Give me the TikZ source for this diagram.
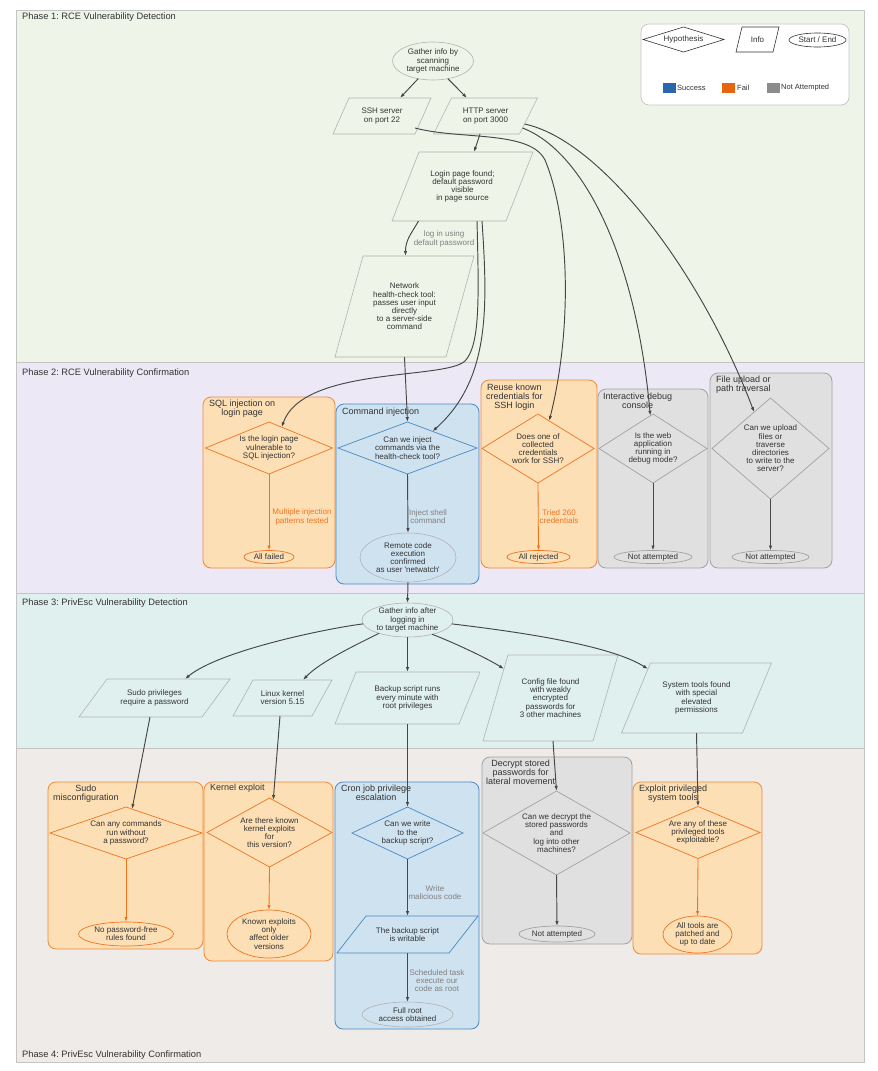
\documentclass[tikz,border=0pt]{standalone}
\usepackage{fontspec}
\setmainfont{Liberation Sans}
\usetikzlibrary{arrows.meta,calc,shapes.geometric}
\frenchspacing
\definecolor{pone}{HTML}{EEF5E8}
\definecolor{ptwo}{HTML}{EDE8F5}
\definecolor{pthree}{HTML}{DFF0EF}
\definecolor{pfour}{HTML}{EFEBE8}
\definecolor{lanel}{HTML}{C4C4C4}
\definecolor{txt}{HTML}{333333}
\definecolor{infol}{HTML}{B2B2B2}
\definecolor{ofill}{HTML}{FDDFB5}
\definecolor{oline}{HTML}{F0883A}
\definecolor{odark}{HTML}{EE7420}
\definecolor{bfill}{HTML}{CFE2F0}
\definecolor{bline}{HTML}{4A88C8}
\definecolor{gfill}{HTML}{E0E0E0}
\definecolor{gline}{HTML}{A2A2A2}
\definecolor{edge}{HTML}{474747}
\definecolor{lbl}{HTML}{808080}
\definecolor{succ}{HTML}{2B65B0}
\definecolor{fail}{HTML}{E8650F}
\definecolor{nat}{HTML}{8C8C8C}
\tikzset{
  ntext/.style={inner sep=0pt, outer sep=0pt, align=center, text=txt, font=\fontsize{8}{8.2}\selectfont},
  lanetitle/.style={anchor=west, inner sep=0pt, text=txt, font=\fontsize{9.3}{10}\selectfont},
  boxtitle/.style={anchor=north west, inner sep=0pt, align=center, text=txt, font=\fontsize{9}{9}\selectfont},
  lane/.style={draw=lanel, line width=0.8pt},
  obox/.style={draw=oline, fill=ofill, line width=0.8pt, rounded corners=8pt},
  bbox/.style={draw=bline, fill=bfill, line width=0.8pt, rounded corners=8pt},
  gbox/.style={draw=gline, fill=gfill, line width=0.8pt, rounded corners=8pt},
  infoline/.style={draw=infol, line width=0.6pt},
  oshape/.style={draw=odark, line width=0.7pt},
  bshape/.style={draw=bline, line width=0.7pt},
  gshape/.style={draw=gline, line width=0.7pt},
  legline/.style={draw=txt, line width=0.6pt},
  oell/.style={ntext, ellipse, draw=odark, line width=0.7pt},
  gell/.style={ntext, ellipse, draw=gline, line width=0.7pt},
  iell/.style={ntext, ellipse, draw=infol, line width=0.6pt},
  arr/.style={draw=edge, line width=0.95pt, -{Latex[length=5pt,width=3.4pt]}},
  oarr/.style={draw=odark, line width=0.85pt, -{Latex[length=5pt,width=3.4pt]}},
  elabel/.style={ntext, text=lbl},
  olabel/.style={ntext, text=odark},
  legtext/.style={anchor=west, inner sep=0pt, text=txt, font=\fontsize{7.5}{8}\selectfont},
}
% parallelogram: name, x, y, w, h, slant, style, text
\newcommand{\mkpara}[8]{%
  \node[ntext, minimum width=#4pt, minimum height=#5pt] (#1) at (#2,#3) {#8};
  \draw[#7] ([xshift=#6pt/2]#1.north west) -- ([xshift=#6pt/2]#1.north east) -- ([xshift=-#6pt/2]#1.south east) -- ([xshift=-#6pt/2]#1.south west) -- cycle;}
% diamond: name, x, y, w, h, style, text
\newcommand{\mkdia}[7]{%
  \node[ntext, minimum width=#4pt, minimum height=#5pt] (#1) at (#2,#3) {#7};
  \draw[#6] (#1.north) -- (#1.east) -- (#1.south) -- (#1.west) -- cycle;}
\begin{document}
\begin{tikzpicture}[x=1pt,y=-1pt]
\useasboundingbox (0,0) rectangle (878,1071);
\fill[white] (0,0) rectangle (878,1071);
% lanes
\draw[lane, fill=pone] (16,10) rectangle (864,362);
\draw[lane, fill=ptwo] (16,362) rectangle (864,593);
\draw[lane, fill=pthree] (16,593) rectangle (864,748);
\draw[lane, fill=pfour] (16,748) rectangle (864,1062);
\node[lanetitle] (t1) at (22,17.5) {Phase 1: RCE Vulnerability Detection};
\node[lanetitle] (t2) at (22,373.5) {Phase 2: RCE Vulnerability Confirmation};
\node[lanetitle] (t3) at (22,603.5) {Phase 3: PrivEsc Vulnerability Detection};
\node[lanetitle] (t4) at (22,1055) {Phase 4: PrivEsc Vulnerability Confirmation};
% legend
\draw[draw=lanel, fill=white, line width=0.7pt, rounded corners=8pt] (641,24) rectangle (849,105);
\mkdia{lhyp}{683.5}{39.5}{81}{25}{legline}{Hypothesis}
\mkpara{linfo}{757.5}{39.5}{37}{25}{6}{legline}{Info}
\node[ntext, ellipse, draw=txt, line width=0.6pt, minimum width=57pt, minimum height=14pt] (lse) at (817.5,40) {Start / End};
\node[fill=succ, minimum width=13pt, minimum height=10pt, inner sep=0pt] (sw1) at (669.5,88) {};
\node[legtext] (sl1) at (677,88) {Success};
\node[fill=fail, minimum width=13pt, minimum height=10pt, inner sep=0pt] (sw2) at (728.5,88) {};
\node[legtext] (sl2) at (737,88) {Fail};
\node[fill=nat, minimum width=13pt, minimum height=10pt, inner sep=0pt] (sw3) at (773.5,88) {};
\node[legtext] (sl3) at (781,88) {Not Attempted};
% phase 2 boxes
\draw[obox] (203,397) rectangle (335,568);
\draw[bbox] (336,404) rectangle (479,584);
\draw[obox] (481,380) rectangle (597,568);
\draw[gbox] (598,389) rectangle (708,568);
\draw[gbox] (710,373) rectangle (832,568);
\node[boxtitle] (bt1) at (209,400) {SQL injection on\\login page};
\node[boxtitle] (bt2) at (342,408) {Command injection};
\node[boxtitle] (bt3) at (486,383.5) {Reuse known\\credentials for\\SSH login};
\node[boxtitle] (bt4) at (603,392.5) {Interactive debug\\console};
\node[boxtitle] (bt5) at (716,375.5) {File upload or\\path traversal};
% phase 4 boxes
\draw[obox] (48,782) rectangle (203,949);
\draw[obox] (204,782) rectangle (333,961);
\draw[bbox] (335,782) rectangle (479,1029);
\draw[gbox] (482,757) rectangle (632,944);
\draw[obox] (633,782) rectangle (762,954);
\node[boxtitle] (bt6) at (53,784.5) {Sudo\\misconfiguration};
\node[boxtitle] (bt7) at (210,784) {Kernel exploit};
\node[boxtitle] (bt8) at (341,784.5) {Cron job privilege\\escalation};
\node[boxtitle] (bt9) at (486,759.5) {Decrypt stored\\passwords for\\lateral movement};
\node[boxtitle] (bt10) at (639,784.5) {Exploit privileged\\system tools};
% phase 1 nodes
\node[iell, minimum width=81pt, minimum height=38pt] (gather) at (433,61) {Gather info by\\scanning\\target machine};
\mkpara{ssh}{382}{116}{82}{36}{16}{infoline}{SSH server\\on port 22}
\mkpara{http}{485.5}{116}{86}{36}{18}{infoline}{HTTP server\\on port 3000}
\mkpara{login}{462.5}{186.5}{114}{69}{27}{infoline}{Login page found;\\default password\\visible\\in page source}
\mkpara{net}{404.5}{306.5}{111}{101}{28}{infoline}{Network\\health-check tool:\\passes user input\\directly\\to a server-side\\command}
\node[elabel] (l1) at (444,239) {log in using\\default password};
% phase 2 nodes
\mkdia{sqld}{269}{448}{127}{52}{oshape}{Is the login page\\vulnerable to\\SQL injection?}
\node[oell, minimum width=50pt, minimum height=13pt] (allfailed) at (269,557) {All failed};
\node[olabel] (l2) at (302,517) {Multiple injection\\patterns tested};
\mkdia{cmdd}{407.5}{448}{139}{52}{bshape}{Can we inject\\commands via the\\health-check tool?}
\node[iell, minimum width=96pt, minimum height=49pt] (rce) at (408,557.5) {Remote code\\execution\\confirmed\\as user \textquotesingle netwatch\textquotesingle};
\node[elabel] (l3) at (428,517) {Inject shell\\command};
\mkdia{reused}{538}{448.5}{112}{69}{oshape}{Does one of\\collected\\credentials\\work for SSH?}
\node[oell, minimum width=63pt, minimum height=13pt] (allrej) at (538.5,557) {All rejected};
\node[olabel] (l4) at (559,517) {Tried 260\\credentials};
\mkdia{dbgd}{653}{448.5}{108}{69}{gshape}{Is the web\\application\\running in\\debug mode?}
\node[gell, minimum width=78pt, minimum height=13pt] (na1) at (653,557) {Not attempted};
\mkdia{fud}{770.5}{448.5}{117}{101}{gshape}{Can we upload\\files or\\traverse\\directories\\to write to the\\server?}
\node[gell, minimum width=77pt, minimum height=13pt] (na2) at (770.5,557) {Not attempted};
% phase 3 nodes
\node[iell, minimum width=91pt, minimum height=34pt] (gather2) at (407.5,620) {Gather info after\\logging in\\to target machine};
\mkpara{sudo}{154.5}{698}{123}{38}{28}{infoline}{Sudo privileges\\require a password}
\mkpara{linux}{282.5}{698}{79}{36}{20}{infoline}{Linux kernel\\version 5.15}
\mkpara{backup}{407.5}{698}{124}{52}{21}{infoline}{Backup script runs\\every minute with\\root privileges}
\mkpara{config}{550.5}{698}{110}{86}{25}{infoline}{Config file found\\with weakly\\encrypted\\passwords for\\3 other machines}
\mkpara{systools}{696.5}{698}{121}{70}{29}{infoline}{System tools found\\with special\\elevated\\permissions}
% phase 4 nodes
\mkdia{sdmd}{126}{833}{152}{52}{oshape}{Can any commands\\run without\\a password?}
\node[oell, minimum width=95pt, minimum height=24pt] (npf) at (126,934) {No password-free\\rules found};
\mkdia{kd}{269.5}{832.5}{125}{69}{oshape}{Are there known\\kernel exploits\\for\\this version?}
\node[oell, minimum width=84pt, minimum height=48pt] (ke) at (269,934) {Known exploits\\only\\affect older\\versions};
\mkdia{crond}{407.5}{833}{111}{52}{bshape}{Can we write\\to the\\backup script?}
\mkpara{writable}{407.5}{934.5}{112}{37}{29}{bshape}{The backup script\\is writable}
\node[iell, minimum width=91pt, minimum height=25pt] (root) at (407.5,1014.5) {Full root\\access obtained};
\node[elabel] (l5) at (435,893) {Write\\malicious code};
\node[elabel] (l6) at (437,980.5) {Scheduled task\\execute our\\code as root};
\mkdia{decd}{556.5}{833}{147}{84}{gshape}{Can we decrypt the\\stored passwords\\and\\log into other\\machines?}
\node[gell, minimum width=76pt, minimum height=16pt] (na3) at (557,934) {Not attempted};
\mkdia{expd}{698}{832.5}{124}{52}{oshape}{Are any of these\\privileged tools\\exploitable?}
\node[oell, minimum width=69pt, minimum height=37pt] (atp) at (697.5,934.5) {All tools are\\patched and\\up to date};
% phase 1 edges
\draw[arr] (gather.230) -- ([xshift=18pt]ssh.north);
\draw[arr] (gather.310) -- ([xshift=-18.5pt]http.north);
\draw[arr] ([xshift=-5.5pt]http.south) -- ([xshift=11.5pt]login.north);
\draw[arr] ([xshift=-44pt]login.south) .. controls +(-8,14) and +(0,-16) .. ([xshift=1pt]net.north);
\draw[arr] ([xshift=14.5pt]login.south) .. controls +(2,79) and +(15,-16) .. (465,361) .. controls +(-20,19) and +(21,-61) .. ($(sqld.north)!0.2!(sqld.east)$);
\draw[arr] ([xshift=19.5pt]login.south) .. controls +(6,89) and +(57,-51) .. ($(cmdd.north)!0.36!(cmdd.east)$);
\draw[arr] (net.south) -- (cmdd.north);
\draw[arr] ([shift={(-8pt,6pt)}]ssh.south east) .. controls +(45,12) and +(-15,-30) .. (545,160) .. controls +(25,60) and +(23,-91) .. ($(reused.north)!0.2!(reused.east)$);
\draw[arr] ([shift={(-6pt,6pt)}]http.south east) .. controls +(58,22) and +(-15,-166) .. ($(dbgd.north)!0.05!(dbgd.west)$);
\draw[arr] ([shift={(-4pt,10pt)}]http.south east) .. controls +(76,16) and +(-54,-142) .. ($(fud.north)!0.28!(fud.west)$);
% phase 2 edges
\draw[oarr] (sqld.south) -- (allfailed.north);
\draw[arr] (cmdd.south) -- (rce.north);
\draw[oarr] (reused.south) -- (allrej.north);
\draw[arr] (dbgd.south) -- (na1.north);
\draw[arr] (fud.south) -- (na2.north);
\draw[arr] (rce.south) -- (gather2.north);
% phase 3 edges
\draw[arr] (gather2.185) .. controls +(-33,4) and +(35,-29) .. ([xshift=30.5pt]sudo.north);
\draw[arr] (gather2.205) .. controls +(-24,12) and +(17,-18) .. ([xshift=20.5pt]linux.north);
\draw[arr] (gather2.south) -- (backup.north);
\draw[arr] (gather2.330) .. controls +(28,11) and +(-14,-9) .. ([shift={(8.5pt,29pt)}]config.west);
\draw[arr] (gather2.-5) .. controls +(67,8) and +(-38,-24) .. ([shift={(12pt,-6pt)}]systools.north west);
% phase 3 to 4 edges
\draw[arr] ([xshift=-4.5pt]sudo.south) -- ($(sdmd.north)!0.08!(sdmd.east)$);
\draw[arr] ([xshift=-2.5pt]linux.south) -- ($(kd.north)!0.06!(kd.east)$);
\draw[arr] (backup.south) -- (crond.north);
\draw[arr] ([xshift=2.5pt]config.south) -- (decd.north);
\draw[arr] (systools.south) -- (expd.north);
% phase 4 edges
\draw[oarr] (sdmd.south) -- (npf.north);
\draw[oarr] (kd.south) -- (ke.north);
\draw[arr] (crond.south) -- (writable.north);
\draw[arr] (writable.south) -- (root.north);
\draw[arr] (decd.south) -- (na3.north);
\draw[oarr] (expd.south) -- (atp.north);
\end{tikzpicture}
\end{document}
